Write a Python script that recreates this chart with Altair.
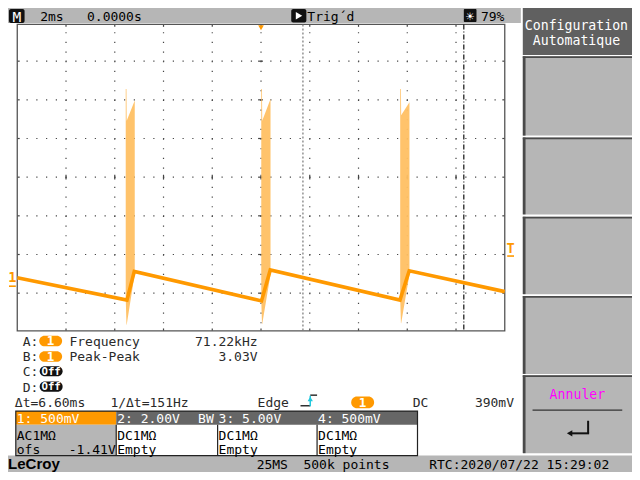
import altair as alt
import pandas as pd

t_wave = [-10.0, -5.50, -5.20, 0.02, 0.38, 5.70, 6.08, 10.0]      # ms
v_wave = [0.11, -0.18, 0.19, -0.19, 0.21, -0.18, 0.20, -0.07]     # V

spike_id = [1, 1, 1, 1, 2, 2, 2, 2, 3, 3, 3, 3]
spike_t = [-5.55, -5.52, -5.51, -5.18, 0.01, 0.04, 0.05, 0.39, 5.71, 5.74, 5.75, 6.09]
spike_hi = [2.55, 2.55, 2.14, 2.40, 2.55, 2.55, 2.14, 2.42, 2.55, 2.55, 2.21, 2.38]
spike_lo = [-0.16, -0.50, -0.50, 0.16, -0.17, -0.49, -0.49, 0.15, -0.16, -0.48, -0.48, 0.15]

cursor_t = [1.72, 8.32]
trig_level = 0.39
time_div = 2.0
volt_div = 0.5
ch1_offset = -1.41

top_texts = ["2ms", "0.0000s", "Trig´d", "79%"]
menu_texts = ["Configuration", "Automatique", "Annuler"]
meas_slots = ["A:", "B:", "C:", "D:"]
meas_names = ["Frequency", "Peak-Peak"]
meas_vals = ["71.22kHz", "3.03V"]
cursor_texts = ["Δt=6.60ms", "1/Δt=151Hz", "Edge", "DC", "390mV"]
ch_heads = ["1: 500mV", "2: 2.00V", "3: 5.00V", "4: 500mV"]
ch_coupling = ["AC1MΩ", "DC1MΩ", "DC1MΩ", "DC1MΩ"]
ch_second = ["ofs", "Empty", "Empty", "Empty"]
status = ["25MS", "500k points", "RTC:2020/07/22 15:29:02"]

# ---------------- layout ----------------
W, H = 624, 464
SX, SY = W / 640, H / 480
FS = (SX + SY) / 2
MONO = "DejaVu Sans Mono"
ORANGE = "#ff9900"
GRAY = "#b6b6b6"
DARK = "#606060"
TXT = "#2a2a2a"


def px(x):
    return x * SX


def py(y):
    return y * SY


one = pd.DataFrame({"k": [0]})
layers = []


def rect(x1, y1, x2, y2, fill, r=0, stroke=None, sw=1.0, fo=1.0):
    kw = dict(fill=fill, fillOpacity=fo, cornerRadius=r)
    if stroke:
        kw.update(stroke=stroke, strokeWidth=sw)
    else:
        kw.update(strokeWidth=0)
    layers.append(alt.Chart(one).mark_rect(**kw).encode(
        x=alt.value(px(x1)), x2=alt.value(px(x2)),
        y=alt.value(py(y1)), y2=alt.value(py(y2))))


def seg(x1, y1, x2, y2, color, w=1.0, dash=None):
    kw = dict(color=color, strokeWidth=w)
    if dash:
        kw["strokeDash"] = dash
    layers.append(alt.Chart(one).mark_rule(**kw).encode(
        x=alt.value(px(x1)), x2=alt.value(px(x2)),
        y=alt.value(py(y1)), y2=alt.value(py(y2))))


def txt(s, x, y, color="black", size=13.4, align="left", weight="normal", font=MONO):
    layers.append(alt.Chart(one).mark_text(
        text=s, align=align, baseline="alphabetic", color=color,
        fontSize=size * FS, fontWeight=weight, font=font).encode(
        x=alt.value(px(x)), y=alt.value(py(y))))


def sym(shape, x, y, color, size):
    layers.append(alt.Chart(one).mark_point(
        shape=shape, filled=True, color=color, size=size, opacity=1).encode(
        x=alt.value(px(x)), y=alt.value(py(y))))


xs = alt.Scale(domain=[-5 * time_div, 5 * time_div], range=[px(9.5), px(509.5)], nice=False, zero=False)
ys = alt.Scale(domain=[-ch1_offset - 4 * volt_div, -ch1_offset + 4 * volt_div],
               range=[py(335), py(15)], nice=False, zero=False)

# ---------------- backgrounds ----------------
rect(0, 0, 526, 15.5, GRAY)                    # top bar
rect(0, 463, 640, 480, GRAY)                   # status bar
rect(528, 0, 640, 48.5, DARK)                  # menu button 1 (active)
for (b1, b2) in [(50, 132), (134, 213.5), (216, 296), (298, 378.5), (380, 460.5)]:
    rect(528, b1, 640, b2, GRAY)
    rect(528, b1, 640, b1 + 1.8, "#4a4a4a")
    rect(528, b1, 530.8, b2, "#4a4a4a")

# ---------------- graticule ----------------
grid_t = [time_div * k for k in range(-4, 5)]
grid_v = [-ch1_offset + volt_div * k for k in range(-3, 4)]
gt = pd.DataFrame({"t": grid_t})
gv = pd.DataFrame({"v": grid_v})
dot = "#444444"
X_T = alt.X("t:Q", scale=xs, axis=None)
Y_V = alt.Y("v:Q", scale=ys, axis=None)
layers.append(alt.Chart(gt).mark_rule(color=dot, strokeWidth=1.2, strokeDash=[1.2, 10 * SY - 1.2]).encode(
    x=X_T, y=alt.value(py(25)), y2=alt.value(py(334))))
layers.append(alt.Chart(gv).mark_rule(color=dot, strokeWidth=1.2, strokeDash=[1.2, 10 * SX - 1.2]).encode(
    y=Y_V, x=alt.value(px(19)), x2=alt.value(px(509))))
# centre-line ticks
layers.append(alt.Chart(gt).mark_rule(color=dot, strokeWidth=1.2).encode(
    x=X_T, y=alt.value(py(172.5)), y2=alt.value(py(177.5))))
layers.append(alt.Chart(gv).mark_rule(color=dot, strokeWidth=1.2).encode(
    y=Y_V, x=alt.value(px(256.5)), x2=alt.value(px(261.5))))
# border ticks
layers.append(alt.Chart(gv).mark_rule(color=dot, strokeWidth=1.2).encode(
    y=Y_V, x=alt.value(px(9.5)), x2=alt.value(px(12))))
layers.append(alt.Chart(gv).mark_rule(color=dot, strokeWidth=1.2).encode(
    y=Y_V, x=alt.value(px(507)), x2=alt.value(px(509.5))))
layers.append(alt.Chart(gt).mark_rule(color=dot, strokeWidth=1.2).encode(
    x=X_T, y=alt.value(py(17)), y2=alt.value(py(19.5))))
layers.append(alt.Chart(gt).mark_rule(color=dot, strokeWidth=1.2).encode(
    x=X_T, y=alt.value(py(331.5)), y2=alt.value(py(334))))
rect(9.5, 17, 509.5, 334, "white", stroke="#555555", sw=1.3, fo=0)

# ---------------- cursors ----------------
layers.append(alt.Chart(pd.DataFrame({"t": [cursor_t[0]]})).mark_rule(
    color="#777777", strokeWidth=1.2, strokeDash=[2, 2]).encode(
    x=X_T, y=alt.value(py(17)), y2=alt.value(py(334))))
layers.append(alt.Chart(pd.DataFrame({"t": [cursor_t[1]]})).mark_rule(
    color="#111111", strokeWidth=1.2, strokeDash=[5, 2, 1, 2]).encode(
    x=X_T, y=alt.value(py(17)), y2=alt.value(py(334))))

# ---------------- waveform ----------------
spk = pd.DataFrame({"id": spike_id, "t": spike_t, "hi": spike_hi, "lo": spike_lo})
layers.append(alt.Chart(spk).mark_area(color="#ffc063", opacity=0.95, interpolate="linear").encode(
    x=X_T, y=alt.Y("hi:Q", scale=ys, axis=None), y2="lo:Q", detail="id:N"))
wave = pd.DataFrame({"t": t_wave, "v": v_wave})
layers.append(alt.Chart(wave).mark_line(color=ORANGE, strokeWidth=3.6).encode(x=X_T, y=Y_V))

# ---------------- screen markers ----------------
layers.append(alt.Chart(one).mark_text(text="1", color=ORANGE, fontSize=14 * FS, font=MONO, fontWeight="bold",
                                       align="center", baseline="alphabetic", dy=-4 * SY).encode(
    x=alt.value(px(4.5)), y=alt.YDatum(0.0, scale=ys)))
layers.append(alt.Chart(one).mark_rule(color=ORANGE, strokeWidth=1.6).encode(
    x=alt.value(px(1)), x2=alt.value(px(8)), y=alt.YDatum(0.0, scale=ys)))
layers.append(alt.Chart(one).mark_text(text="T", color=ORANGE, fontSize=14 * FS, font=MONO, fontWeight="bold",
                                       align="center", baseline="alphabetic", dy=-3.5 * SY).encode(
    x=alt.value(px(515.5)), y=alt.YDatum(trig_level, scale=ys)))
layers.append(alt.Chart(one).mark_rule(color=ORANGE, strokeWidth=1.6).encode(
    x=alt.value(px(512)), x2=alt.value(px(519)), y=alt.YDatum(trig_level, scale=ys)))
layers.append(alt.Chart(one).mark_point(shape="triangle-down", filled=True, color=ORANGE, size=32, opacity=1).encode(
    x=alt.XDatum(0.0, scale=xs), y=alt.value(py(20.5))))

# ---------------- top bar ----------------
rect(1, 1, 17, 15.5, "#111111", r=2)
txt("M", 9, 14, color="white", size=15, align="center")
txt(top_texts[0], 33, 13)
txt(top_texts[1], 81, 13)
rect(290.5, 1, 306, 15, "#111111", r=2)
sym("triangle-right", 298.5, 8, "white", 55)
txt(top_texts[2], 307, 13)
rect(467.5, 1, 480.5, 14.5, "#111111", r=1)
txt("☀", 474, 12.5, color="white", size=11, align="center", font="DejaVu Sans")
txt(top_texts[3], 485, 13)

# ---------------- menu ----------------
txt(menu_texts[0], 583, 23, color="white", size=13.6, align="center")
txt(menu_texts[1], 583, 38, color="white", size=13.6, align="center")
txt(menu_texts[2], 584, 404, color="#ff00ff", size=13.6, align="center")
seg(538, 416, 630, 416, "#333333", 1.3)
seg(595, 427, 595, 440, "#111111", 2)
seg(577, 440, 596, 440, "#111111", 2)
sym("triangle-left", 576, 440, "#111111", 40)

# ---------------- measurements ----------------
row_base = [349.5, 365.5, 381, 397]
for i, lab in enumerate(meas_slots):
    txt(lab, 15, row_base[i], color=TXT)
for i in range(2):
    b = row_base[i]
    rect(32, b - 10.5, 55.5, b + 0.5, ORANGE, r=5.5)
    txt("1", 43.7, b - 0.5, color="white", size=13, align="center", weight="bold")
    txt(meas_names[i], 63, b, color=TXT)
    txt(meas_vals[i], 256, b, color=TXT, align="right")
for i in range(2, 4):
    b = row_base[i]
    rect(32.5, b - 10.5, 56, b, "#111111", r=5)
    txt("Off", 44.2, b - 1.5, color="white", size=11, align="center", weight="bold")

# ---------------- cursor / trigger line ----------------
yb = 413
txt(cursor_texts[0], 7, yb, color=TXT)
txt(cursor_texts[1], 105, yb, color=TXT)
txt(cursor_texts[2], 256, yb, color=TXT)
seg(300, 411.5, 310, 411.5, "#111111", 1.3)
seg(310, 400.5, 317, 400.5, "#111111", 1.3)
seg(310, 401, 310, 412, "#22c8dd", 1.5)
sym("triangle-up", 310, 404.5, "#22c8dd", 28)
rect(352, 402, 375.5, 414, ORANGE, r=6)
txt("1", 363.7, 412.5, color="white", size=13, align="center", weight="bold")
txt(cursor_texts[3], 415, yb, color=TXT)
txt(cursor_texts[4], 519, yb, color=TXT, align="right")

# ---------------- channel boxes ----------------
cx = [8, 111, 215, 317, 420]
rect(cx[0], 417, cx[1], 431, ORANGE)
rect(cx[1], 417, cx[4], 431, "#666666")
rect(cx[0], 431, cx[1], 463, GRAY)
rect(cx[0], 417, cx[4], 463, "white", stroke="#222222", sw=1.2, fo=0)
for k in range(1, 4):
    seg(cx[k], 431, cx[k], 463, "#222222", 1.2)
for k in range(4):
    txt(ch_heads[k], cx[k] + 1, 429, color="white")
    txt(ch_coupling[k], cx[k] + 1, 447)
    txt(ch_second[k], cx[k] + 1, 461)
txt("BW", 211, 429, color="white", align="right")
txt(f"{ch1_offset:.2f}V", 110.5, 461, align="right")

# ---------------- status bar ----------------
txt("LeCroy", 0, 477, size=15.5, weight="bold", font="Liberation Sans")
txt(status[0], 255, 477)
txt(status[1], 303, 477)
txt(status[2], 432, 477)

chart = alt.layer(*layers).properties(
    width=W, height=H, padding=0, autosize=alt.AutoSizeParams(type="none"),
    background="white",
).configure_view(stroke=None)

chart.save("out.html", embed_options={"renderer": "svg", "actions": False})
